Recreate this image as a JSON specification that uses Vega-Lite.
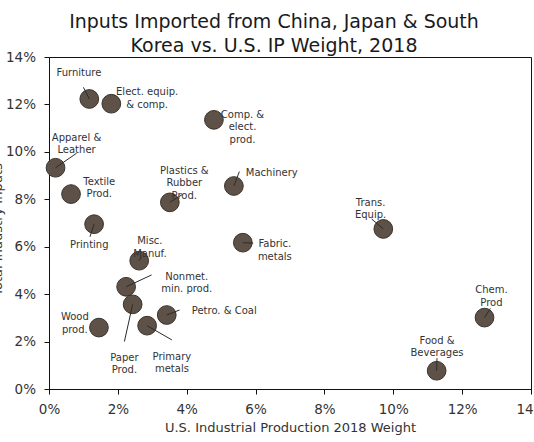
{
  "$schema": "https://vega.github.io/schema/vega-lite/v6.json",
  "width": 482,
  "height": 332,
  "autosize": {"type": "none"},
  "padding": {"left": 49, "top": 57, "right": 3, "bottom": 53},
  "background": "white",
  "title": {
    "text": ["Inputs Imported from China, Japan & South", "Korea vs. U.S. IP Weight, 2018"],
    "font": "DejaVu Sans",
    "fontSize": 19,
    "fontWeight": "normal",
    "color": "#1a1a1a",
    "anchor": "middle",
    "frame": "group",
    "dx": -16,
    "dy": 10,
    "lineHeight": 24.5,
    "offset": 4
  },
  "config": {
    "font": "DejaVu Sans",
    "view": {"stroke": "#111", "strokeWidth": 1},
    "axis": {
      "grid": false,
      "domainColor": "#111",
      "tickColor": "#111",
      "labelColor": "#333",
      "titleColor": "#333",
      "labelFont": "DejaVu Sans",
      "titleFont": "DejaVu Sans",
      "labelFontSize": 13.5,
      "titleFontSize": 13,
      "titleFontWeight": "normal",
      "tickSize": 5
    }
  },
  "data": {
    "values": [
      {"name": "Furniture", "x": 1.17, "y": 12.23, "label": "Furniture", "lx": 0.87, "ly": 13.33, "sx": 1.0, "sy": 12.72},
      {"name": "Elect. equip. & comp.", "x": 1.81, "y": 12.03, "label": "Elect. equip.\n& comp.", "lx": 2.85, "ly": 12.51, "sx": null, "sy": null},
      {"name": "Comp. & elect. prod.", "x": 4.79, "y": 11.35, "label": "Comp. &\nelect.\nprod.", "lx": 5.62, "ly": 11.56, "sx": null, "sy": null},
      {"name": "Apparel & Leather", "x": 0.19, "y": 9.33, "label": "Apparel &\nLeather", "lx": 0.8, "ly": 10.6, "sx": 0.8, "sy": 9.94},
      {"name": "Textile Prod.", "x": 0.64, "y": 8.22, "label": "Textile\nProd.", "lx": 1.46, "ly": 8.74, "sx": null, "sy": null},
      {"name": "Printing", "x": 1.31, "y": 6.95, "label": "Printing", "lx": 1.17, "ly": 6.07, "sx": 1.19, "sy": 6.42},
      {"name": "Plastics & Rubber Prod.", "x": 3.51, "y": 7.87, "label": "Plastics &\nRubber\nProd.", "lx": 3.93, "ly": 9.21, "sx": 3.88, "sy": 8.21},
      {"name": "Machinery", "x": 5.37, "y": 8.56, "label": "Machinery", "lx": 6.47, "ly": 9.1, "sx": 5.53, "sy": 9.17},
      {"name": "Fabric. metals", "x": 5.63, "y": 6.17, "label": "Fabric.\nmetals", "lx": 6.56, "ly": 6.11, "sx": 5.93, "sy": 6.15},
      {"name": "Misc. Manuf.", "x": 2.62, "y": 5.41, "label": "Misc.\nManuf.", "lx": 2.93, "ly": 6.22, "sx": 2.68, "sy": 5.58},
      {"name": "Nonmet. min. prod.", "x": 2.24, "y": 4.31, "label": "Nonmet.\nmin. prod.", "lx": 4.0, "ly": 4.74, "sx": 2.98, "sy": 4.81},
      {"name": "Paper Prod.", "x": 2.43, "y": 3.57, "label": "Paper\nProd.", "lx": 2.19, "ly": 1.31, "sx": 2.19, "sy": 2.0},
      {"name": "Wood prod.", "x": 1.45, "y": 2.59, "label": "Wood\nprod.", "lx": 0.75, "ly": 3.02, "sx": null, "sy": null},
      {"name": "Primary metals", "x": 2.85, "y": 2.67, "label": "Primary\nmetals", "lx": 3.57, "ly": 1.36, "sx": 3.57, "sy": 2.07},
      {"name": "Petro. & Coal", "x": 3.42, "y": 3.12, "label": "Petro. & Coal", "lx": 5.09, "ly": 3.3, "sx": 3.79, "sy": 3.33},
      {"name": "Food & Beverages", "x": 11.26, "y": 0.77, "label": "Food &\nBeverages", "lx": 11.27, "ly": 2.03, "sx": 11.27, "sy": 1.3},
      {"name": "Chem. Prod", "x": 12.65, "y": 3.01, "label": "Chem.\nProd", "lx": 12.85, "ly": 4.16, "sx": 12.82, "sy": 3.4},
      {"name": "Trans. Equip.", "x": 9.71, "y": 6.75, "label": "Trans.\nEquip.", "lx": 9.34, "ly": 7.85, "sx": 9.37, "sy": 7.17}
    ]
  },
  "layer": [
    {
      "mark": {"type": "circle", "size": 350, "opacity": 1, "fill": "#5e5248", "stroke": "#3a322b", "strokeWidth": 1},
      "encoding": {
        "x": {
          "field": "x", "type": "quantitative",
          "scale": {"domain": [0, 14], "nice": false, "zero": true},
          "title": "U.S. Industrial Production 2018 Weight",
          "axis": {
            "values": [0, 2, 4, 6, 8, 10, 12, 14],
            "labelExpr": "datum.value + '%'",
            "labelPadding": 8,
            "labelFlush": false,
            "labelOverlap": false,
            "titleY": 42,
            "titleBaseline": "alphabetic"
          }
        },
        "y": {
          "field": "y", "type": "quantitative",
          "scale": {"domain": [0, 14], "nice": false},
          "title": "Total Industry Inputs",
          "axis": {
            "values": [0, 2, 4, 6, 8, 10, 12, 14],
            "labelExpr": "datum.value + '%'",
            "labelPadding": 8.5,
            "labelFlush": false,
            "labelOverlap": false,
            "titleX": -48,
            "titleY": 172,
            "titleAlign": "center",
            "titleAngle": -90,
            "titleBaseline": "alphabetic"
          }
        }
      }
    },
    {
      "transform": [{"filter": "datum.sx != null"}],
      "mark": {"type": "rule", "color": "#2b2b2b", "strokeWidth": 1},
      "encoding": {
        "x": {"field": "sx", "type": "quantitative", "title": "U.S. Industrial Production 2018 Weight"},
        "y": {"field": "sy", "type": "quantitative", "title": "Total Industry Inputs"},
        "x2": {"field": "x"},
        "y2": {"field": "y"}
      }
    },
    {
      "mark": {"type": "text", "font": "DejaVu Sans", "fontSize": 10, "color": "#333", "lineBreak": "\n", "lineHeight": 12.5, "align": "center", "baseline": "middle"},
      "encoding": {
        "x": {"field": "lx", "type": "quantitative", "title": "U.S. Industrial Production 2018 Weight"},
        "y": {"field": "ly", "type": "quantitative", "title": "Total Industry Inputs"},
        "text": {"field": "label"}
      }
    }
  ]
}
